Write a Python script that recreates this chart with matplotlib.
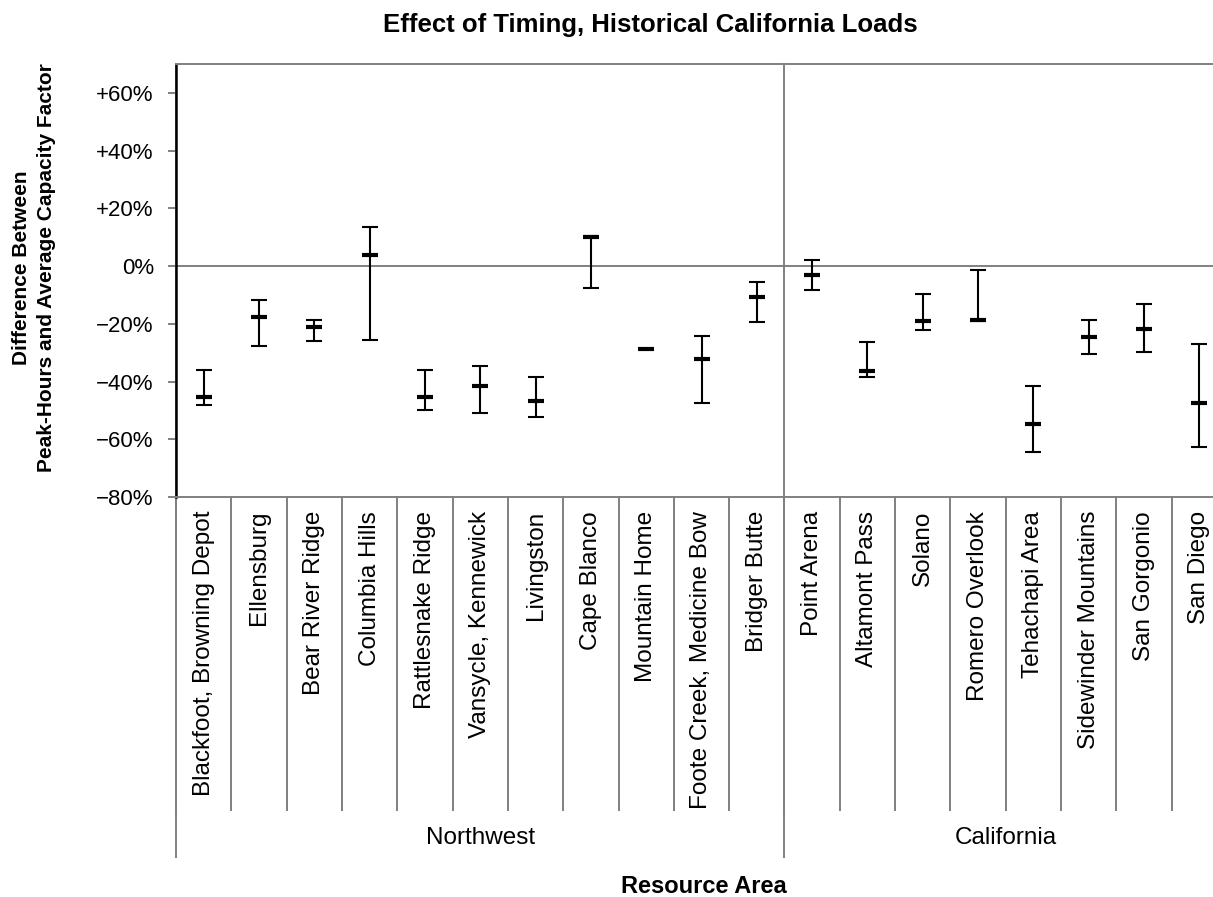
import numpy as np
import matplotlib.pyplot as plt

plt.rcParams['font.family'] = ['Liberation Sans', 'DejaVu Sans']

# resource areas and their region group
areas = ["Blackfoot, Browning Depot", "Ellensburg", "Bear River Ridge", "Columbia Hills",
         "Rattlesnake Ridge", "Vansycle, Kennewick", "Livingston", "Cape Blanco",
         "Mountain Home", "Foote Creek, Medicine Bow", "Bridger Butte",
         "Point Arena", "Altamont Pass", "Solano", "Romero Overlook", "Tehachapi Area",
         "Sidewinder Mountains", "San Gorgonio", "San Diego"]
groups = ["Northwest", "California"]
group_sizes = [11, 8]

# difference between peak-hours and average capacity factor (%)
center = [-45.2, -17.6, -21.0, 3.8, -45.2, -41.7, -46.6, 10.2, -28.7, -32.1, -10.7,
          -3.2, -36.2, -19.1, -18.6, -54.8, -24.6, -21.8, -47.4]
high = [-35.9, -11.8, -18.7, 13.7, -35.9, -34.6, -38.6, 10.5, -28.7, -24.3, -5.6,
        2.1, -26.3, -9.8, -1.4, -41.5, -18.7, -13.2, -26.9]
low = [-48.3, -27.6, -26.1, -25.6, -49.7, -51.0, -52.4, -7.6, -28.7, -47.6, -19.3,
       -8.4, -38.6, -22.1, -19.0, -64.3, -30.3, -29.7, -62.8]

yticks = [-80, -60, -40, -20, 0, 20, 40, 60]
ytick_labels = ["\u221280%", "\u221260%", "\u221240%", "\u221220%", "0%", "+20%", "+40%", "+60%"]

W, H = 1213, 897
fig = plt.figure(figsize=(W / 100, H / 100), dpi=100)
ax = fig.add_axes([176 / W, 1 - 497 / H, 1051 / W, 433 / H])

x = np.arange(len(areas))
c = np.array(center)
err = [c - np.array(low), np.array(high) - c]
ax.errorbar(x, c, yerr=err, fmt='none', ecolor='black', elinewidth=1.5,
            capsize=5.5, capthick=1.5, zorder=3)
ax.plot(x, c, linestyle='none', marker='_', markersize=12, mew=3, color='black', zorder=4)

ax.set_xlim(-0.5, len(areas) - 0.5)
ax.set_ylim(-80, 70)
ax.axhline(0, color='#808080', lw=1.4, zorder=1)

gray = '#808080'
for s in ['top', 'bottom', 'right']:
    ax.spines[s].set_color(gray)
    ax.spines[s].set_linewidth(1.4)
ax.spines['left'].set_color('black')
ax.spines['left'].set_linewidth(1.8)

ax.set_yticks(yticks)
ax.set_yticklabels(ytick_labels, fontsize=16)
ax.tick_params(axis='y', direction='out', length=6, color=gray, width=1.4, pad=10)

ax.set_xticks(x)
ax.set_xticklabels(areas, rotation=90, fontsize=17.5)
ax.tick_params(axis='x', length=0, pad=10)

# category separators and group dividers below the axis
trans = ax.get_xaxis_transform()
axh = 433.0
sep_end = -(810 - 497) / axh
grp_end = -(857 - 497) / axh
bounds = np.cumsum([0] + group_sizes) - 0.5
for b in np.arange(-0.5, len(areas)):
    ax.plot([b, b], [0, sep_end], color=gray, lw=1.4, transform=trans, clip_on=False)
for b in bounds:
    ax.plot([b, b], [1, grp_end], color=gray, lw=1.4, transform=trans, clip_on=False)

for i, g in enumerate(groups):
    mid = (bounds[i] + bounds[i + 1]) / 2
    ax.text(mid, -(838 - 497) / axh, g, transform=trans, ha='center', va='center', fontsize=17.5)

fig.text(650 / W, 1 - 25 / H, "Effect of Timing, Historical California Loads",
         ha='center', va='center', fontsize=18.5, fontweight='bold')
fig.text(704 / W, 1 - 886 / H, "Resource Area", ha='center', va='center',
         fontsize=17, fontweight='bold')
fig.text(34 / W, 1 - 268 / H, "Difference Between\nPeak-Hours and Average Capacity Factor",
         ha='center', va='center', rotation=90, fontsize=15, fontweight='bold',
         linespacing=1.45)

fig.savefig("out.png", dpi=100)
